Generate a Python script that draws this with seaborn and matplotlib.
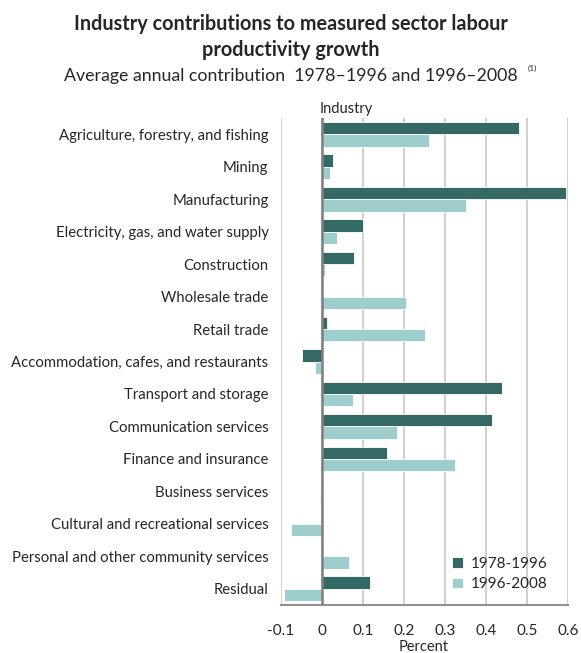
import seaborn as sns
import matplotlib.pyplot as plt
import pandas as pd

industries = [
    'Agriculture, forestry, and fishing',
    'Mining',
    'Manufacturing',
    'Electricity, gas, and water supply',
    'Construction',
    'Wholesale trade',
    'Retail trade',
    'Accommodation, cafes, and restaurants',
    'Transport and storage',
    'Communication services',
    'Finance and insurance',
    'Business services',
    'Cultural and recreational services',
    'Personal and other community services',
    'Residual',
]
period_1978_1996 = [0.48, 0.026, 0.594, 0.101, 0.077, 0.0, 0.011, -0.05,
                    0.44, 0.415, 0.159, 0.0, 0.0, 0.0, 0.117]
period_1996_2008 = [0.26, 0.019, 0.35, 0.037, 0.008, 0.206, 0.252, -0.017,
                    0.076, 0.183, 0.325, -0.006, -0.075, 0.065, -0.093]
periods = ['1978-1996', '1996-2008']
colors = ['#346965', '#9dcdcc']

df = pd.DataFrame({
    'Industry': industries * 2,
    'Percent': period_1978_1996 + period_1996_2008,
    'Period': [periods[0]] * len(industries) + [periods[1]] * len(industries),
})

sns.set_style('white')
plt.rcParams['font.family'] = ['Lato', 'DejaVu Sans']

fig = plt.figure(figsize=(5.81, 6.53), dpi=100)
ax = fig.add_axes([281 / 581, 1 - 605 / 653, 287 / 581, 487 / 653])

sns.barplot(data=df, y='Industry', x='Percent', hue='Period', orient='h',
            palette=colors, width=0.76, edgecolor='white', linewidth=0.6,
            saturation=1, ax=ax)

ax.set_xlim(-0.1, 0.6)
ax.set_xticks([-0.1, 0, 0.1, 0.2, 0.3, 0.4, 0.5, 0.6])
ax.set_xticklabels(['-0.1', '0', '0.1', '0.2', '0.3', '0.4', '0.5', '0.6'], fontsize=11)
ax.set_ylim(len(industries) - 0.5, -0.5)
ax.tick_params(axis='x', length=0, pad=14)
ax.tick_params(axis='y', length=0, pad=9, labelsize=10.7)
ax.grid(axis='x', color='#cccccc', linewidth=1.3)
ax.set_axisbelow(True)
ax.axvline(0, color='#808080', linewidth=1.8, zorder=3)

for side in ['top', 'right', 'left']:
    ax.spines[side].set_visible(False)
ax.spines['bottom'].set_color('#909090')
ax.spines['bottom'].set_linewidth(1.5)

ax.set_xlabel('')
ax.set_ylabel('')
fig.text(424 / 581, 1 - 647 / 653, 'Percent', fontsize=10.5, ha='center', va='center')
fig.text(346 / 581, 1 - 109 / 653, 'Industry', fontsize=10.5, ha='center', va='center')

fig.text(0.5, 1 - 24 / 653, 'Industry contributions to measured sector labour',
         fontsize=14.3, fontweight='bold', ha='center', va='center')
fig.text(0.5, 1 - 50 / 653, 'productivity growth',
         fontsize=14.3, fontweight='bold', ha='center', va='center')
fig.text(291 / 581, 1 - 76 / 653, 'Average annual contribution  1978\u20131996 and 1996\u20132008',
         fontsize=12.8, ha='center', va='center')
fig.text(528 / 581, 1 - 68 / 653, '(1)', fontsize=6, ha='left', va='center')

ax.legend(loc='lower right', bbox_to_anchor=(0.975, 0.0), frameon=False,
          fontsize=11, handlelength=0.7, handleheight=0.7, handletextpad=0.5,
          labelspacing=0.4)

fig.savefig('out.png', dpi=100)
